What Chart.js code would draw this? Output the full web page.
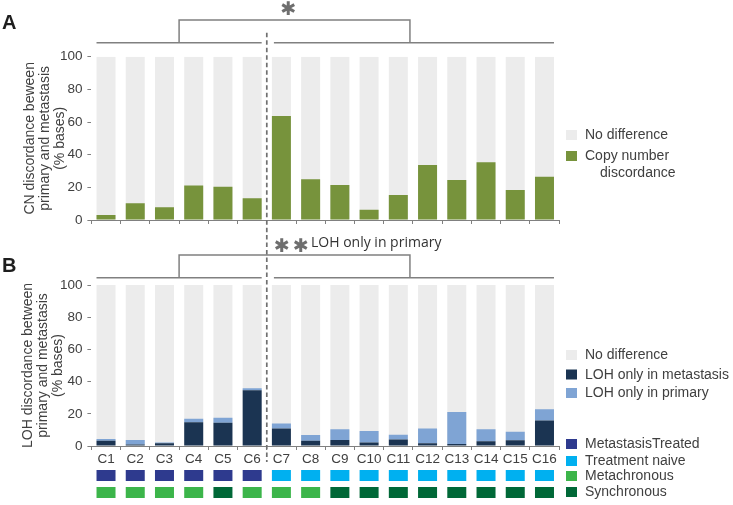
<!DOCTYPE html>
<html><head><meta charset="utf-8">
<script src="https://cdn.jsdelivr.net/npm/chart.js@4.4.0/dist/chart.umd.min.js"></script>
<style>
html,body{margin:0;padding:0;background:#fff;}
#wrap{position:relative;width:733px;height:505px;overflow:hidden;background:#fff;}
canvas{position:absolute;left:0;}
#cA{top:0;} #cB{top:235px;}
</style></head><body>
<div id="wrap"><canvas id="cA" width="733" height="235"></canvas><canvas id="cB" width="733" height="270"></canvas></div>
<script>
// ---------------- data ----------------
const categories = ['C1','C2','C3','C4','C5','C6','C7','C8','C9','C10','C11','C12','C13','C14','C15','C16'];
const cnDiscordance = [3.1, 10.2, 7.8, 21.2, 20.4, 13.3, 63.7, 24.9, 21.4, 6.3, 15.3, 33.7, 24.5, 35.3, 18.4, 26.5];
const lohOnlyMetastasis = [3.3, 1.0, 1.7, 14.7, 14.5, 34.6, 10.8, 3.3, 3.7, 2.1, 4.1, 1.7, 1.2, 2.9, 3.5, 15.9];
const lohOnlyPrimary = [1.0, 2.7, 0.4, 2.3, 3.1, 1.2, 3.1, 3.5, 6.7, 7.2, 2.9, 9.1, 19.9, 7.5, 5.4, 6.9];
const totalPercent = [100,100,100,100,100,100,100,100,100,100,100,100,100,100,100,100];
const treatmentGroup = ['MetastasisTreated','MetastasisTreated','MetastasisTreated','MetastasisTreated','MetastasisTreated','MetastasisTreated',
  'Treatment naive','Treatment naive','Treatment naive','Treatment naive','Treatment naive','Treatment naive','Treatment naive','Treatment naive','Treatment naive','Treatment naive'];
const timingGroup = ['Metachronous','Metachronous','Metachronous','Metachronous','Synchronous','Metachronous','Metachronous','Metachronous',
  'Synchronous','Synchronous','Synchronous','Synchronous','Synchronous','Synchronous','Synchronous','Synchronous'];
const yTickValues = [0, 20, 40, 60, 80, 100];

// ---------------- styles ----------------
const FONT = '"Liberation Sans", Arial, sans-serif';
const TEXT = '#404040';
const LINE = '#808080';
const C_GRAY = '#ececec', C_GREEN = '#77933c', C_NAVY = '#1b3452', C_LIGHT = '#7fa4d4';
const groupColors = {
  'MetastasisTreated': '#2e3a8e', 'Treatment naive': '#00b0f0',
  'Metachronous': '#3cb54a', 'Synchronous': '#006837'
};
Chart.defaults.font.family = FONT;
Chart.defaults.color = TEXT;

function yScale(titleLines, titlePad) {
  return {
    min: 0, max: 100,
    afterBuildTicks: s => { s.ticks = yTickValues.map(v => ({ value: v })); },
    ticks: { font: { size: 13.5 }, color: TEXT, padding: 5 },
    grid: { drawOnChartArea: false, drawTicks: true, tickLength: 4, color: LINE },
    border: { display: false },
    title: { display: true, text: titleLines, color: TEXT, font: { size: 14, lineHeight: 1.05 }, padding: { top: titlePad, bottom: 0 } },
    afterFit: s => { s.width = 91.4; }
  };
}

function drawLegend(ctx, items) {
  ctx.save();
  ctx.font = '14px ' + FONT;
  ctx.textBaseline = 'middle';
  ctx.textAlign = 'left';
  for (const it of items) {
    if (it.color) { ctx.fillStyle = it.color; ctx.fillRect(566, it.y - 5, 11, 10); }
    ctx.fillStyle = TEXT;
    ctx.fillText(it.text, it.tx || 585, it.y + 0.5);
  }
  ctx.restore();
}

function drawBrackets(chart, dashTop, dashBottom) {
  const ctx = chart.ctx;
  const bars = chart.getDatasetMeta(0).data;
  const half = bars[0].width / 2;
  const l0 = bars[0].x - half, l1 = bars[5].x + half;
  const r0 = bars[6].x - half, r1 = bars[15].x + half;
  const split = (bars[5].x + bars[6].x) / 2;
  const cl = (bars[0].x + bars[5].x) / 2, cr = (bars[6].x + bars[15].x) / 2;
  ctx.save();
  ctx.strokeStyle = LINE; ctx.lineWidth = 1.5;
  ctx.beginPath();
  ctx.moveTo(l0, 42.7); ctx.lineTo(l1, 42.7);
  ctx.moveTo(r0 + 2, 42.7); ctx.lineTo(r1, 42.7);
  ctx.stroke();
  ctx.beginPath();
  ctx.moveTo(cl, 42.7); ctx.lineTo(cl, 20); ctx.lineTo(cr - 3, 20); ctx.lineTo(cr - 3, 42.7);
  ctx.stroke();
  ctx.strokeStyle = '#707070'; ctx.lineWidth = 1.7;
  ctx.setLineDash([4.5, 3]);
  ctx.beginPath(); ctx.moveTo(split, dashTop); ctx.lineTo(split, dashBottom); ctx.stroke();
  ctx.restore();
  return split;
}

function drawStar(ctx, x, y) {
  ctx.save();
  ctx.fillStyle = '#6e6e6e';
  ctx.font = '19px "DejaVu Sans"';
  ctx.textAlign = 'center'; ctx.textBaseline = 'middle';
  ctx.fillText('\u2731', x, y);
  ctx.restore();
}

function drawPanelLetter(ctx, letter, y) {
  ctx.save();
  ctx.fillStyle = '#1e1e1e';
  ctx.font = 'bold 20px ' + FONT;
  ctx.textAlign = 'left'; ctx.textBaseline = 'middle';
  ctx.fillText(letter, 2, y);
  ctx.restore();
}

// ---------------- Panel A ----------------
const annotA = {
  id: 'annotA',
  afterDraw(chart) {
    const ctx = chart.ctx;
    drawBrackets(chart, 32.7, 235);
    drawStar(ctx, 288.5, 10.5);
    drawPanelLetter(ctx, 'A', 23);
    drawLegend(ctx, [
      { color: C_GRAY, y: 135, text: 'No difference' },
      { color: C_GREEN, y: 156, text: 'Copy number' },
      { y: 173, text: 'discordance', tx: 600 }
    ]);
  }
};

new Chart(document.getElementById('cA'), {
  type: 'bar',
  data: {
    labels: categories,
    datasets: [
      { label: 'Copy number discordance', data: cnDiscordance, backgroundColor: C_GREEN, grouped: false, barPercentage: 0.65, categoryPercentage: 1 },
      { label: 'No difference', data: totalPercent, backgroundColor: C_GRAY, grouped: false, barPercentage: 0.65, categoryPercentage: 1 }
    ]
  },
  options: {
    responsive: false, animation: false,
    layout: { padding: { left: 0, right: 173.9, top: 56.7, bottom: 0 } },
    plugins: { legend: { display: false }, tooltip: { enabled: false } },
    scales: {
      x: {
        offset: true,
        grid: { offset: true, drawOnChartArea: false, drawTicks: true, tickLength: 4, color: LINE },
        border: { display: true, color: LINE, width: 1 },
        ticks: { display: false },
        afterFit: s => { s.height = 15; }
      },
      y: yScale(['CN discordance beween', 'primary and metastasis', '(% bases)'], 23)
    }
  },
  plugins: [annotA]
});

// ---------------- Panel B ----------------
const annotB = {
  id: 'annotB',
  afterDraw(chart) {
    const ctx = chart.ctx;
    drawBrackets(chart, 0, 227);
    drawStar(ctx, 282, 12);
    drawStar(ctx, 301, 12);
    ctx.save();
    ctx.fillStyle = '#333333';
    ctx.font = '14px "Open Sans"';
    ctx.textBaseline = 'middle'; ctx.textAlign = 'left';
    ctx.fillText('LOH only in primary', 311, 8);
    ctx.restore();
    drawPanelLetter(ctx, 'B', 31);
    // group annotation squares under each category
    const bars = chart.getDatasetMeta(0).data;
    bars.forEach((b, i) => {
      ctx.fillStyle = groupColors[treatmentGroup[i]];
      ctx.fillRect(b.x - b.width / 2, 235, b.width, 11);
      ctx.fillStyle = groupColors[timingGroup[i]];
      ctx.fillRect(b.x - b.width / 2, 252, b.width, 11);
    });
    drawLegend(ctx, [
      { color: C_GRAY, y: 120, text: 'No difference' },
      { color: C_NAVY, y: 139.5, text: 'LOH only in metastasis' },
      { color: C_LIGHT, y: 158, text: 'LOH only in primary' },
      { color: groupColors['MetastasisTreated'], y: 209, text: 'MetastasisTreated' },
      { color: groupColors['Treatment naive'], y: 226, text: 'Treatment naive' },
      { color: groupColors['Metachronous'], y: 241, text: 'Metachronous' },
      { color: groupColors['Synchronous'], y: 257, text: 'Synchronous' }
    ]);
  }
};

new Chart(document.getElementById('cB'), {
  type: 'bar',
  data: {
    labels: categories,
    datasets: [
      { label: 'LOH only in metastasis', data: lohOnlyMetastasis, backgroundColor: C_NAVY, stack: 'loh', barPercentage: 0.65, categoryPercentage: 1 },
      { label: 'LOH only in primary', data: lohOnlyPrimary, backgroundColor: C_LIGHT, stack: 'loh', barPercentage: 0.65, categoryPercentage: 1 },
      { label: 'No difference', data: totalPercent, backgroundColor: C_GRAY, stack: 'bg', grouped: false, barPercentage: 0.65, categoryPercentage: 1 }
    ]
  },
  options: {
    responsive: false, animation: false,
    layout: { padding: { left: 0, right: 173.9, top: 50, bottom: 0 } },
    plugins: { legend: { display: false }, tooltip: { enabled: false } },
    scales: {
      x: {
        stacked: true, offset: true,
        grid: { offset: true, drawOnChartArea: false, drawTicks: true, tickLength: 4, color: LINE },
        border: { display: true, color: LINE, width: 1 },
        ticks: { font: { size: 13.5 }, color: TEXT, padding: 1, maxRotation: 0, autoSkip: false },
        afterFit: s => { s.height = 59; }
      },
      y: Object.assign(yScale(['LOH discordance between', 'primary and metastasis', '(% bases)'], 21), { stacked: true })
    }
  },
  plugins: [annotB]
});
</script>
</body></html>
